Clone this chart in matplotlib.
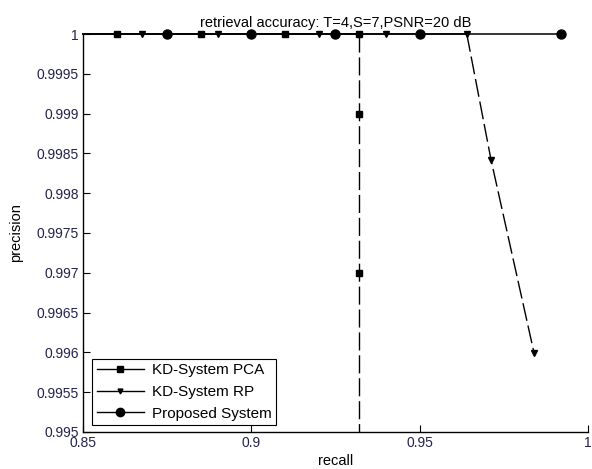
import matplotlib
matplotlib.use("Agg")
import matplotlib.pyplot as plt
from matplotlib.lines import Line2D

plt.rcParams['font.family'] = ['Liberation Sans', 'DejaVu Sans']

# data
pca_recall = [0.85, 0.86, 0.885, 0.91, 0.932, 0.932, 0.932, 0.932]
pca_precision = [1.0, 1.0, 1.0, 1.0, 1.0, 0.999, 0.997, 0.995]
rp_recall = [0.85, 0.8675, 0.89, 0.92, 0.94, 0.964, 0.9712, 0.984]
rp_precision = [1.0, 1.0, 1.0, 1.0, 1.0, 1.0, 0.99842, 0.99599]
prop_recall = [0.85, 0.875, 0.90, 0.925, 0.95, 0.992]
prop_precision = [1.0, 1.0, 1.0, 1.0, 1.0, 1.0]

series = [
    ("KD-System PCA", pca_recall, pca_precision, 's', 4.5),
    ("KD-System RP", rp_recall, rp_precision, 'v', 4.0),
    ("Proposed System", prop_recall, prop_precision, 'o', 6.5),
]

xticks = [0.85, 0.9, 0.95, 1.0]
xticklabels = ['0.85', '0.9', '0.95', '1']
yticks = [0.995, 0.9955, 0.996, 0.9965, 0.997, 0.9975, 0.998, 0.9985, 0.999, 0.9995, 1.0]
yticklabels = ['0.995', '0.9955', '0.996', '0.9965', '0.997', '0.9975', '0.998',
               '0.9985', '0.999', '0.9995', '1']

fig = plt.figure(figsize=(5.92, 4.69), dpi=100)
ax = fig.add_axes([0.1402, 0.0789, 0.8530, 0.8486])

handles = []
for name, xs, ys, mk, ms in series:
    # solid part where precision stays at 1, dashed tail afterwards
    last = max(i for i, v in enumerate(ys) if v == 1.0)
    ax.plot(xs[:last + 1], ys[:last + 1], '-', color='black', lw=1.1, clip_on=False, zorder=3)
    if last < len(xs) - 1:
        ln, = ax.plot(xs[last:], ys[last:], color='black', lw=1.0, clip_on=False, zorder=3)
        ln.set_dashes([13, 3.5])
    # markers (skip axis-boundary endpoints)
    mx = [x for x, y in zip(xs, ys) if 0.85 < x < 1.0 and 0.995 < y <= 1.0]
    my = [y for x, y in zip(xs, ys) if 0.85 < x < 1.0 and 0.995 < y <= 1.0]
    ax.plot(mx, my, linestyle='none', marker=mk, color='black', ms=ms, clip_on=False, zorder=4)
    handles.append(Line2D([], [], color='black', lw=1.0, marker=mk, ms=ms - 0.5))

ax.set_xlim(0.85, 1.0)
ax.set_ylim(0.995, 1.0)
ax.set_xticks(xticks)
ax.set_xticklabels(xticklabels)
ax.set_yticks(yticks)
ax.set_yticklabels(yticklabels)
ax.spines['top'].set_visible(False)
ax.spines['right'].set_visible(False)
for s in ('left', 'bottom'):
    ax.spines[s].set_linewidth(1.0)
ax.tick_params(direction='in', length=5, width=0.8, labelsize=10,
               labelcolor='#23234d', pad=3)

ax.set_title('retrieval accuracy: T=4,S=7,PSNR=20 dB', fontsize=10.5, pad=5)
ax.set_xlabel('recall', fontsize=10.5, labelpad=3)
ax.set_ylabel('precision', fontsize=10.5, labelpad=10)

leg = ax.legend(handles, [s[0] for s in series], loc='lower left',
                bbox_to_anchor=(0.018, 0.017), fontsize=11, frameon=True,
                fancybox=False, edgecolor='black', framealpha=1,
                handlelength=3.1, borderpad=0.3, labelspacing=0.5,
                handletextpad=0.5, borderaxespad=0)
leg.get_frame().set_linewidth(0.8)

fig.savefig('out.png', dpi=100)
